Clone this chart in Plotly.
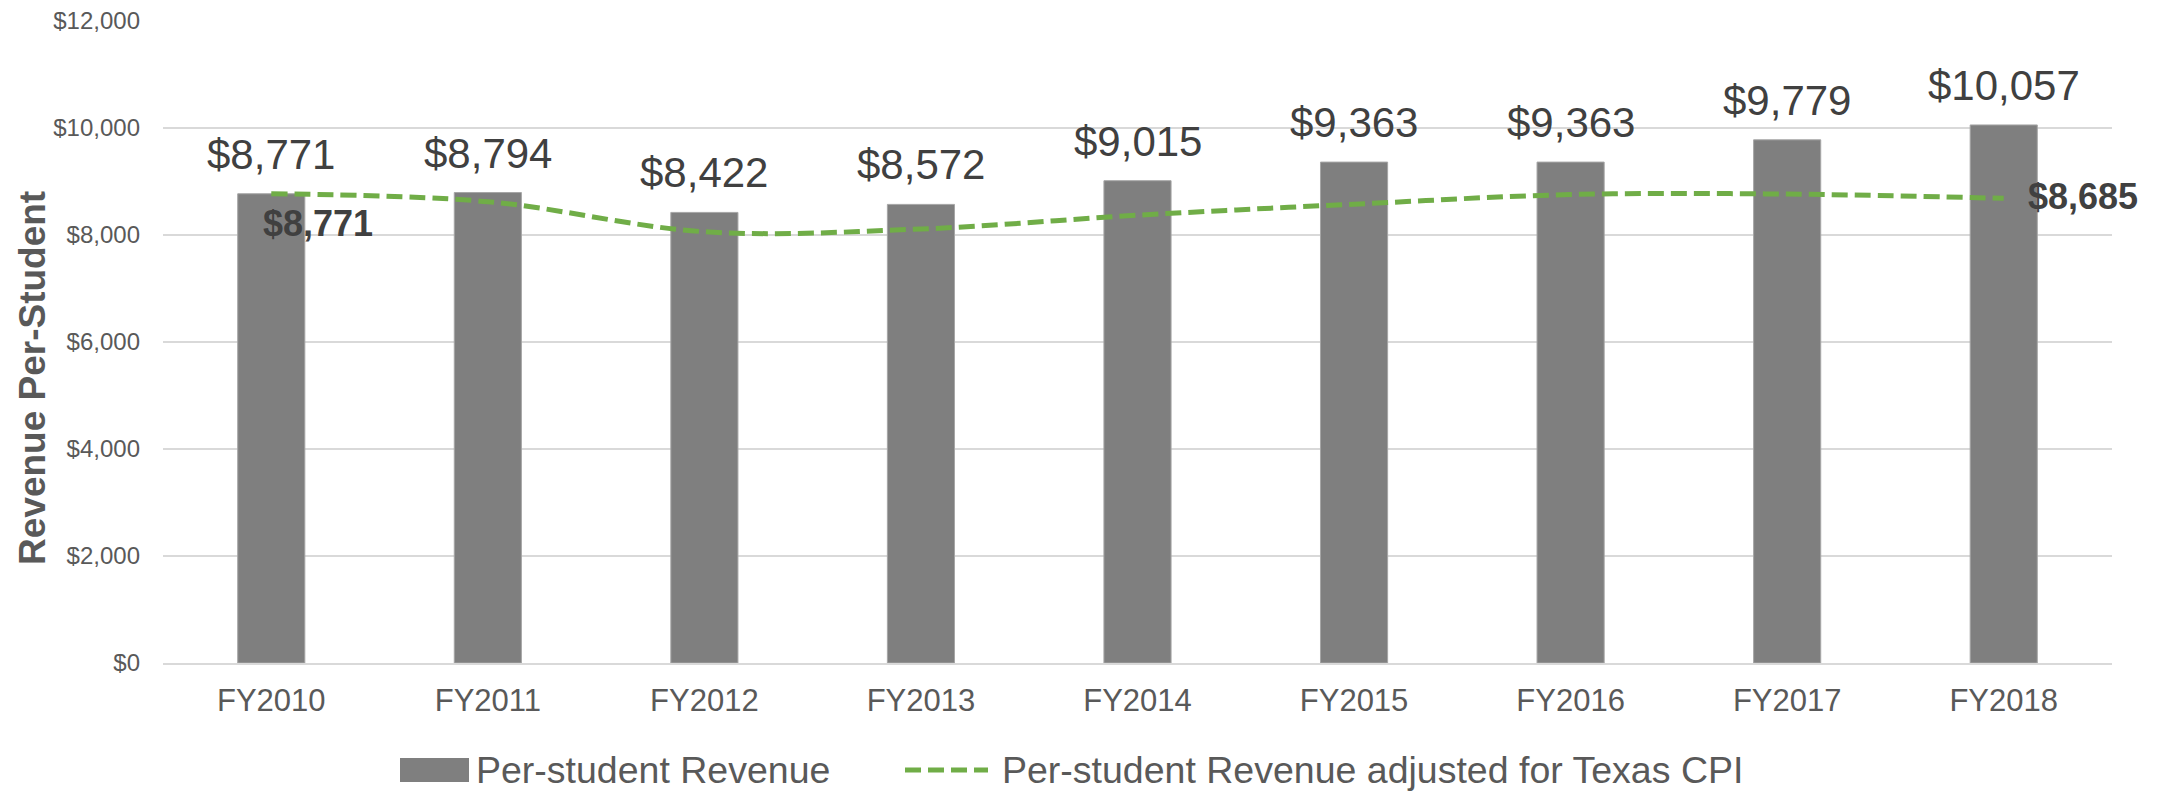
import plotly.graph_objects as go

categories = ["FY2010", "FY2011", "FY2012", "FY2013", "FY2014", "FY2015", "FY2016", "FY2017", "FY2018"]
revenue = [8771, 8794, 8422, 8572, 9015, 9363, 9363, 9779, 10057]
revenue_cpi = [8771, 8623, 8061, 8112, 8370, 8576, 8756, 8765, 8685]
y_ticks = [0, 2000, 4000, 6000, 8000, 10000, 12000]
y_tick_text = ["$0", "$2,000", "$4,000", "$6,000", "$8,000", "$10,000", "$12,000"]
series_names = ["Per-student Revenue", "Per-student Revenue adjusted for Texas CPI"]
y_title = "Revenue Per-Student"

FONT = "Liberation Sans, Arial, sans-serif"
BAR_COLOR = "#7F7F7F"
LINE_COLOR = "#70AD47"
LINE_DASH = "16px,7px"

W, H = 2162, 792
ML, MR, MT, MB = 163, 50, 21, 129
PW, PH = W - ML - MR, H - MT - MB


def px_x(px):
    return (px - ML) / PW


def px_y(py):
    return (H - MB - py) / PH


fig = go.Figure()
fig.add_trace(go.Bar(
    x=categories, y=revenue, name=series_names[0],
    marker=dict(color=BAR_COLOR, line=dict(color="#A6A6A6", width=1)),
    width=0.31, showlegend=False,
))
fig.add_trace(go.Scatter(
    x=categories, y=revenue_cpi, name=series_names[1],
    mode="lines", line=dict(color=LINE_COLOR, width=5, dash=LINE_DASH, shape="spline"),
    showlegend=False,
))

annotations = []
for c, v in zip(categories, revenue):
    annotations.append(dict(
        x=c, y=v, text=f"${v:,}", showarrow=False, xanchor="center", yanchor="bottom",
        yshift=14, font=dict(family=FONT, size=42, color="#404040"),
    ))
annotations.append(dict(
    x=categories[0], y=revenue_cpi[0], text=f"<b>${revenue_cpi[0]:,}</b>", showarrow=False,
    xanchor="center", yanchor="middle", xshift=47, yshift=-30,
    font=dict(family=FONT, size=36, color="#404040"),
))
annotations.append(dict(
    x=categories[-1], y=revenue_cpi[-1], text=f"<b>${revenue_cpi[-1]:,}</b>", showarrow=False,
    xanchor="left", yanchor="middle", xshift=22, yshift=2,
    font=dict(family=FONT, size=36, color="#404040"),
))

# y-axis title (placed like the reference, a bit below the plot centre)
annotations.append(dict(
    xref="paper", yref="paper", x=px_x(32), y=px_y(378), text=f"<b>{y_title}</b>",
    textangle=-90, showarrow=False, xanchor="center", yanchor="middle",
    font=dict(family=FONT, size=37, color="#595959"),
))

# legend (drawn manually to match the large swatches)
LEG_Y = 770
annotations.append(dict(
    xref="paper", yref="paper", x=px_x(474), y=px_y(LEG_Y), text=series_names[0],
    showarrow=False, xanchor="left", yanchor="middle",
    font=dict(family=FONT, size=37.5, color="#595959"),
))
annotations.append(dict(
    xref="paper", yref="paper", x=px_x(1000), y=px_y(LEG_Y), text=series_names[1],
    showarrow=False, xanchor="left", yanchor="middle",
    font=dict(family=FONT, size=37.5, color="#595959"),
))
shapes = [
    dict(type="rect", xref="paper", yref="paper",
         x0=px_x(400), x1=px_x(469), y0=px_y(LEG_Y + 12), y1=px_y(LEG_Y - 12),
         fillcolor=BAR_COLOR, line=dict(width=0)),
    dict(type="line", xref="paper", yref="paper",
         x0=px_x(905), x1=px_x(988), y0=px_y(LEG_Y), y1=px_y(LEG_Y),
         line=dict(color=LINE_COLOR, width=5, dash=LINE_DASH)),
]

fig.update_layout(
    width=W, height=H,
    margin=dict(l=ML, r=MR, t=MT, b=MB, autoexpand=False),
    paper_bgcolor="white", plot_bgcolor="white",
    font=dict(family=FONT, color="#595959"),
    showlegend=False,
    annotations=annotations,
    shapes=shapes,
)
fig.update_xaxes(
    type="category", range=[-0.5, len(categories) - 0.5],
    showgrid=False, showline=True, linecolor="#D9D9D9", linewidth=2,
    tickfont=dict(family=FONT, size=31, color="#595959"), ticks="", ticklabelstandoff=9,
    automargin=False,
)
fig.update_yaxes(
    range=[0, 12000], tickvals=y_ticks, ticktext=y_tick_text,
    showgrid=True, gridcolor="#D9D9D9", gridwidth=2, zeroline=False, showline=False,
    tickfont=dict(family=FONT, size=24, color="#595959"),
    ticks="", ticklabelstandoff=22, automargin=False,
)

fig.write_html("out.html", config={"displayModeBar": False},
               post_script="document.body.style.margin='0px';")
